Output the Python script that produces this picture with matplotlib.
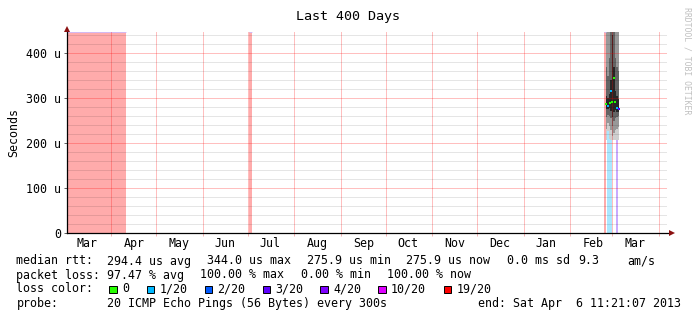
# -*- coding: utf-8 -*-

import numpy as np
import pandas as pd
import matplotlib as mpl
mpl.use('Agg')
import matplotlib.pyplot as plt
import matplotlib.dates as mdates
from matplotlib.patches import Rectangle
from matplotlib.ticker import MultipleLocator, FuncFormatter

# ---- data (rtt in microseconds) ----
t_start = '2012-03-02 11:21:07'
t_end = '2013-04-06 11:21:07'

# loss background bars (full height)
bg_start = ['2012-03-02 11:21', '2012-07-01 18:00', '2013-02-23 16:00',
            '2013-02-25 07:00', '2013-03-03 06:00']
bg_end = ['2012-04-10 12:00', '2012-07-03 14:00', '2013-02-24 19:00',
          '2013-03-01 00:00', '2013-03-04 18:00']
bg_loss = [20, 20, 20, 1, 3]

# smoke bins, band edges outer -> inner
smoke_edges = ['2013-02-24 18:00', '2013-02-25 18:00', '2013-02-26 18:00',
               '2013-02-27 18:00', '2013-02-28 18:00', '2013-03-01 18:00',
               '2013-03-02 18:00', '2013-03-03 18:00', '2013-03-04 18:00',
               '2013-03-05 08:00']
smoke_lo = [
    [207, 227, 210, 207, 207, 207, 207, 207, 207],
    [232, 245, 238, 228, 215, 222, 228, 232, 236],
    [258, 262, 260, 255, 238, 248, 255, 258, 260],
    [276, 275, 278, 272, 258, 268, 274, 270, 268],
]
smoke_hi = [
    [600, 600, 600, 700, 700, 700, 600, 600, 600],
    [470, 470, 470, 600, 600, 600, 470, 470, 470],
    [370, 350, 390, 470, 480, 470, 390, 370, 360],
    [305, 300, 310, 340, 440, 370, 315, 305, 298],
]
smoke_colors = ['#cfcfcf', '#989898', '#646464', '#262626']

# median rtt points
med_time = ['2013-02-24 19:00', '2013-02-26 03:00', '2013-02-27 11:00',
            '2013-02-28 03:00', '2013-03-01 00:00', '2013-03-02 03:00',
            '2013-03-02 19:00', '2013-03-04 03:00', '2013-03-05 06:00']
med_us = [286, 282, 289.6, 316, 291.8, 344.0, 290.4, 278.4, 275.9]
med_loss = [0, 1, 0, 1, 0, 0, 0, 1, 3]

loss_levels = [0, 1, 2, 3, 4, 10, 19]
loss_labels = ['0', '1/20', '2/20', '3/20', '4/20', '10/20', '19/20']
loss_hex = ['#26ff00', '#00b8ff', '#0059ff', '#5e00ff', '#7e00ff', '#dd00ff', '#ff0000']

legend_rows = [
    [(16.5, 'median rtt:'), (107, '294.4 us avg'), (207.3, '344.0 us max'),
     (307, '275.9 us min'), (406, '275.9 us now'), (507, '0.0 ms sd'),
     (578, '9.3'), (627, 'am/s')],
    [(16.5, 'packet loss:'), (107, '97.47 % avg'), (200, '100.00 % max'),
     (301, '0.00 % min'), (387, '100.00 % now')],
    [(16.5, 'loss color:')],
    [(16.5, 'probe:'), (106.7, '20 ICMP Echo Pings (56 Bytes) every 300s'),
     (477.7, 'end: Sat Apr  6 11:21:07 2013')],
]
box_x = [109, 146.8, 204.6, 262.5, 320.3, 378, 444]

W, H = 697, 321


def fx(x):
    return x / W


def fy(y):
    return 1 - y / H


def loss_color(n):
    c = loss_hex[0]
    for lv, hx in zip(loss_levels, loss_hex):
        if n >= lv:
            c = hx
    return c


plt.rcParams['font.family'] = 'DejaVu Sans Mono'
plt.rcParams['font.size'] = 8.4

fig = plt.figure(figsize=(W / 100, H / 100), dpi=100)
ax = fig.add_axes([fx(67), fy(233), 600 / W, 201 / H])

ymax = 447
ax.set_xlim(pd.Timestamp(t_start), pd.Timestamp(t_end))
ax.set_ylim(0, ymax)

# loss background
for s, e, n in zip(bg_start, bg_end, bg_loss):
    ax.axvspan(pd.Timestamp(s), pd.Timestamp(e), color=loss_color(n), alpha=0.33,
               lw=0, zorder=1)
    if n >= 19:
        ax.hlines(ymax - 0.6, pd.Timestamp(s), pd.Timestamp(e), color='#cbbcff',
                  lw=0.6, zorder=1.5)

# smoke
edges = mdates.date2num(pd.to_datetime(smoke_edges))
left = edges[:-1]
width = np.diff(edges)
for k in range(len(smoke_lo)):
    lo = np.array(smoke_lo[k])
    hi = np.array(smoke_hi[k])
    ax.bar(left, hi - lo, width=width, bottom=lo, align='edge',
           color=smoke_colors[k], lw=0, zorder=1.2)

# median
for t, v, n in zip(med_time, med_us, med_loss):
    ax.plot([pd.Timestamp(t)], [v], marker='s', ms=2.0, mew=0,
            color=loss_color(n), ls='none', zorder=4)

# grid
ax.yaxis.set_major_locator(MultipleLocator(100))
ax.yaxis.set_minor_locator(MultipleLocator(20))
ax.yaxis.set_major_formatter(FuncFormatter(lambda v, p: '0' if v == 0 else '%d u' % v))
ax.xaxis.set_major_locator(mdates.MonthLocator())
ax.xaxis.set_major_formatter(plt.NullFormatter())
ax.xaxis.set_minor_locator(mdates.MonthLocator(bymonthday=16))
ax.xaxis.set_minor_formatter(mdates.DateFormatter('%b'))

ax.grid(which='minor', axis='y', color='#000000', alpha=0.1, lw=0.72)
ax.grid(which='major', axis='both', color='#ff0000', alpha=0.25, lw=0.72)
ax.set_axisbelow(False)

ax.tick_params(axis='x', which='major', direction='out', length=2.5, width=0.72,
               color='#f4b4b4')
ax.tick_params(axis='x', which='minor', length=0, pad=3.2, labelsize=8.4)
ax.tick_params(axis='y', which='major', direction='out', length=2.2, width=0.72,
               color='#666666', pad=2.2, labelsize=8.4)
ax.tick_params(axis='y', which='minor', length=0)

for sp in ax.spines.values():
    sp.set_visible(False)

# axes with arrows
ax.plot([0, 0], [0, 1], transform=ax.transAxes, color='black', lw=0.9,
        clip_on=False, zorder=5)
ax.plot([0, 1.004], [0, 0], transform=ax.transAxes, color='black', lw=0.9,
        clip_on=False, zorder=5)
ax.plot([0], [1.016], transform=ax.transAxes, marker='^', ms=4.2, mew=0,
        color='#8b1010', clip_on=False, zorder=6)
ax.plot([1.0075], [0], transform=ax.transAxes, marker='>', ms=4.2, mew=0,
        color='#8b1010', clip_on=False, zorder=6)

# texts
fig.text(0.5, fy(20), 'Last 400 Days', ha='center', va='baseline', fontsize=9.6)
fig.text(fx(14), fy(132.5), 'Seconds', rotation=90, ha='center', va='center')
fig.text(fx(686.5), fy(7), 'RRDTOOL / TOBI OETIKER', rotation=270, ha='center',
         va='top', fontsize=5.9, color='#c0c0c0')

baselines = [264.5, 278.5, 292.5, 306.5]
for row, yb in zip(legend_rows, baselines):
    for x, s in row:
        fig.text(fx(x), fy(yb), s, ha='left', va='baseline')

for bx, c, lab in zip(box_x, loss_hex, loss_labels):
    fig.patches.append(Rectangle((fx(bx), fy(293.3)), 7.5 / W, 7.5 / H,
                                 transform=fig.transFigure, facecolor=c,
                                 edgecolor='black', lw=0.7))
    fig.text(fx(bx + 13), fy(292.5), lab, ha='left', va='baseline')

fig.savefig('out.png', dpi=100)
